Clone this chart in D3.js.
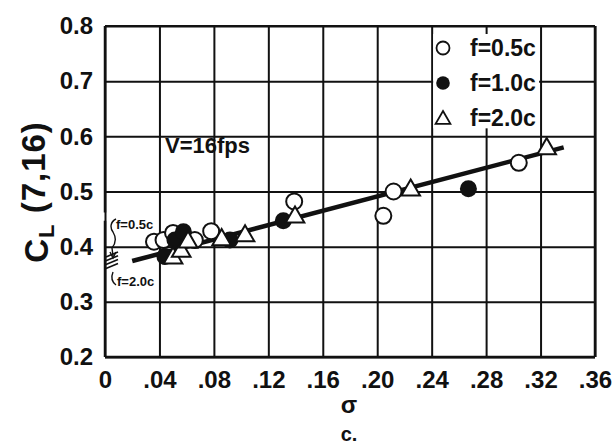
<!DOCTYPE html>
<html>
<head>
<meta charset="utf-8">
<script src="https://cdn.jsdelivr.net/npm/d3@7/dist/d3.min.js"></script>
<style>
  html, body { margin: 0; padding: 0; background: #fff; }
  svg { display: block; }
  text { font-family: "Liberation Sans", Arial, sans-serif; font-weight: bold; fill: #111; }
</style>
</head>
<body>
<svg id="chart" width="616" height="444"></svg>
<script>
// Section lift coefficient C_L(7,16) against solidity sigma, three fin spacings
const xTicks = [0, 0.04, 0.08, 0.12, 0.16, 0.20, 0.24, 0.28, 0.32, 0.36];
const xTickLabels = ["0", ".04", ".08", ".12", ".16", ".20", ".24", ".28", ".32", ".36"];
const yTicks = [0.2, 0.3, 0.4, 0.5, 0.6, 0.7, 0.8];
const yTickLabels = ["0.2", "0.3", "0.4", "0.5", "0.6", "0.7", "0.8"];

// f = 0.5c (open circles)
const sigma05 = [0.036, 0.043, 0.050, 0.066, 0.078, 0.139, 0.2045, 0.212, 0.304];
const cl05    = [0.409, 0.412, 0.425, 0.412, 0.428, 0.482, 0.456, 0.500, 0.552];
// f = 1.0c (filled circles)
const sigma10 = [0.044, 0.0514, 0.0576, 0.0918, 0.131, 0.267];
const cl10    = [0.382, 0.412, 0.427, 0.412, 0.447, 0.505];
// f = 2.0c (triangles)
const sigma20 = [0.050, 0.056, 0.061, 0.0857, 0.1029, 0.1396, 0.2246, 0.3245];
const cl20    = [0.383, 0.395, 0.412, 0.416, 0.423, 0.457, 0.506, 0.581];

// Faired line through all spacings
const fitSigma = [0.020, 0.337];
const fitCl    = [0.374, 0.580];

// Zero-solidity intercept marks on the C_L axis
const interceptMarks = [0.386, 0.379, 0.372, 0.365];

const legendLabels = ["f=0.5c", "f=1.0c", "f=2.0c"];

const svg = d3.select("#chart");
const x = d3.scaleLinear().domain([0, 0.36]).range([105, 595]);
const y = d3.scaleLinear().domain([0.2, 0.8]).range([357, 26]);
const ink = "#111";

// Grid: vertical lines at each sigma tick, with labels underneath
const gx = svg.append("g")
  .attr("transform", `translate(0,${y(0.2)})`)
  .call(d3.axisBottom(x).tickValues(xTicks)
    .tickSize(-(y(0.2) - y(0.8)))
    .tickPadding(14)
    .tickFormat((d, i) => xTickLabels[i]));
gx.select(".domain").remove();
gx.selectAll(".tick line").attr("stroke", ink).attr("stroke-width", 2);
gx.selectAll(".tick text").style("font-size", "24px").attr("fill", ink)
  .attr("font-family", "Liberation Sans, Arial, sans-serif");

// Grid: horizontal lines at each C_L tick
const gy = svg.append("g")
  .attr("transform", `translate(${x(0)},0)`)
  .call(d3.axisLeft(y).tickValues(yTicks)
    .tickSize(-(x(0.36) - x(0)))
    .tickPadding(12)
    .tickFormat((d, i) => yTickLabels[i]));
gy.select(".domain").remove();
gy.selectAll(".tick line").attr("stroke", ink).attr("stroke-width", 2);
gy.selectAll(".tick text").style("font-size", "24px").attr("fill", ink)
  .attr("font-family", "Liberation Sans, Arial, sans-serif");

// Frame; the left edge is broken where the intercept note sits
svg.append("line").attr("x1", x(0)).attr("x2", x(0))
  .attr("y1", y(0.8)).attr("y2", y(0.462)).attr("stroke", ink).attr("stroke-width", 2.5);
svg.append("line").attr("x1", x(0)).attr("x2", x(0))
  .attr("y1", y(0.447)).attr("y2", y(0.2)).attr("stroke", ink).attr("stroke-width", 2.5);
svg.append("line").attr("x1", x(0)).attr("x2", x(0.36))
  .attr("y1", y(0.2)).attr("y2", y(0.2)).attr("stroke", ink).attr("stroke-width", 2.5);
svg.append("line").attr("x1", x(0.36)).attr("x2", x(0.36))
  .attr("y1", y(0.8)).attr("y2", y(0.2)).attr("stroke", ink).attr("stroke-width", 2.5);
svg.append("line").attr("x1", x(0)).attr("x2", x(0.36))
  .attr("y1", y(0.8)).attr("y2", y(0.8)).attr("stroke", ink).attr("stroke-width", 2);

// Legend panel blanks the grid inside its cell
svg.append("rect")
  .attr("x", x(0.24) + 1.5).attr("y", y(0.8) + 8)
  .attr("width", x(0.32) - x(0.24) - 3).attr("height", y(0.6) - y(0.8) - 16)
  .attr("fill", "#fff");

// Fitted line
svg.append("line")
  .attr("x1", x(fitSigma[0])).attr("y1", y(fitCl[0]))
  .attr("x2", x(fitSigma[1])).attr("y2", y(fitCl[1]))
  .attr("stroke", ink).attr("stroke-width", 4.5);

// Markers
const tri = d3.symbol().type(d3.symbolTriangle).size(150);
const zip = (a, b) => a.map((v, i) => [v, b[i]]);

svg.append("g").selectAll("circle").data(zip(sigma05, cl05)).join("circle")
  .attr("cx", d => x(d[0])).attr("cy", d => y(d[1])).attr("r", 8)
  .attr("fill", "#fff").attr("stroke", ink).attr("stroke-width", 2);

svg.append("g").selectAll("circle").data(zip(sigma10, cl10)).join("circle")
  .attr("cx", d => x(d[0])).attr("cy", d => y(d[1])).attr("r", 8.5)
  .attr("fill", ink);

svg.append("g").selectAll("path").data(zip(sigma20, cl20)).join("path")
  .attr("d", tri)
  .attr("transform", d => `translate(${x(d[0])},${y(d[1]) + 2})`)
  .attr("fill", "#fff").attr("stroke", ink).attr("stroke-width", 2)
  .attr("stroke-linejoin", "miter");

// Legend entries
const lg = svg.append("g");
const lx = 443, ly = [48, 83, 118];
lg.append("circle").attr("cx", lx).attr("cy", ly[0]).attr("r", 6.5)
  .attr("fill", "#fff").attr("stroke", ink).attr("stroke-width", 1.8);
lg.append("circle").attr("cx", lx).attr("cy", ly[1]).attr("r", 6.8).attr("fill", ink);
lg.append("path").attr("d", d3.symbol().type(d3.symbolTriangle).size(95))
  .attr("transform", `translate(${lx},${ly[2] + 1.5})`)
  .attr("fill", "#fff").attr("stroke", ink).attr("stroke-width", 1.8);
lg.selectAll("text").data(legendLabels).join("text")
  .attr("x", 470).attr("y", (d, i) => ly[i])
  .attr("dy", "0.36em").style("font-size", "23px").text(d => d);

// Speed note
svg.append("text").attr("x", 165).attr("y", 145).attr("dy", "0.36em")
  .style("font-size", "22px").text("V=16fps");

// Intercept note at sigma = 0
const note = svg.append("g");
note.append("text").attr("x", 116).attr("y", 224).attr("dy", "0.36em")
  .style("font-size", "13px").text("f=0.5c");
note.append("text").attr("x", 117).attr("y", 281).attr("dy", "0.36em")
  .style("font-size", "13px").text("f=2.0c");
note.append("path")
  .attr("d", "M116,219 C110,222 110,228 113,232 C116,237 116,243 112,248 L113,256")
  .attr("fill", "none").attr("stroke", ink).attr("stroke-width", 1.4);
note.append("path").attr("d", "M110,252 L113,258 L116,252")
  .attr("fill", "none").attr("stroke", ink).attr("stroke-width", 1.4);
note.append("path")
  .attr("d", "M116,285 C112,282 111,277 113,272")
  .attr("fill", "none").attr("stroke", ink).attr("stroke-width", 1.4);
note.selectAll("line.mark").data(interceptMarks).join("line")
  .attr("class", "mark")
  .attr("x1", x(0) + 1).attr("y1", d => y(d) + 2.5)
  .attr("x2", x(0) + 13).attr("y2", d => y(d) - 2.5)
  .attr("stroke", ink).attr("stroke-width", 1.6);

// Axis titles
const yt = svg.append("text")
  .attr("transform", "translate(48,192) rotate(-90)")
  .attr("text-anchor", "middle")
  .style("font-size", "33px").style("letter-spacing", "1px");
yt.append("tspan").text("C");
yt.append("tspan").attr("dy", "0.28em").style("font-size", "22px").text("L");
yt.append("tspan").attr("dy", "-0.28em").text(" (7,16)");

svg.append("text").attr("x", 349).attr("y", 413)
  .attr("text-anchor", "middle").style("font-size", "24px").text("σ");
svg.append("text").attr("x", 349).attr("y", 441)
  .attr("text-anchor", "middle").style("font-size", "20px").text("c.");
</script>
</body>
</html>
